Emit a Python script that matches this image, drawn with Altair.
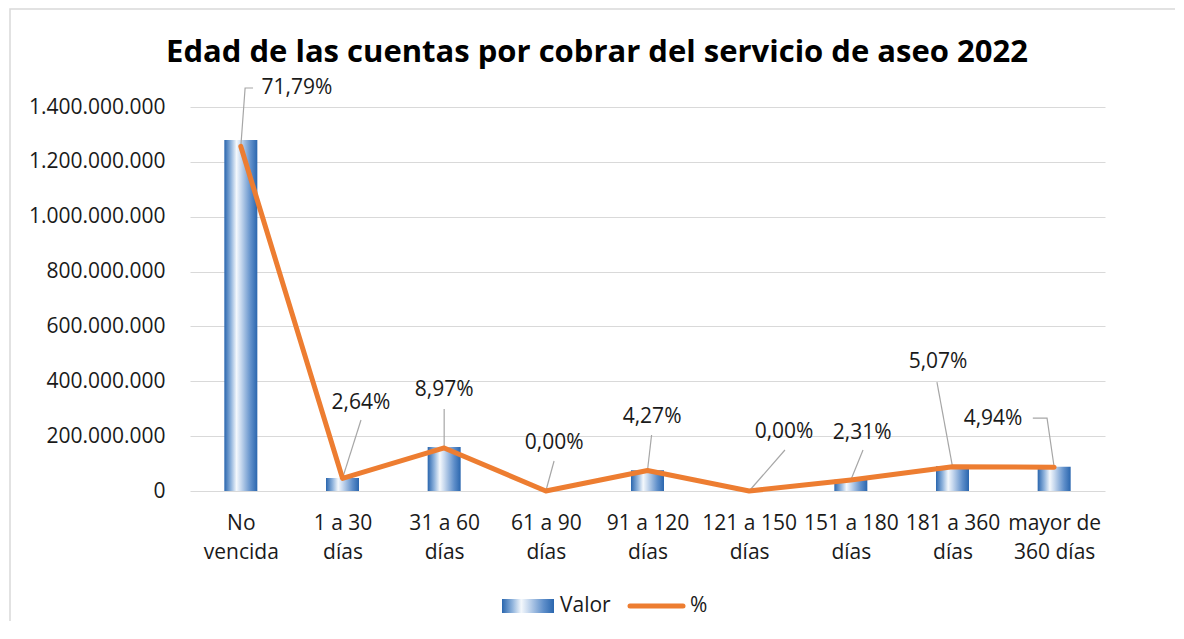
import json
import altair as alt
import pandas as pd

# ---------------- data ----------------
categories = ["No\nvencida", "1 a 30\ndías", "31 a 60\ndías", "61 a 90\ndías",
              "91 a 120\ndías", "121 a 150\ndías", "151 a 180\ndías",
              "181 a 360\ndías", "mayor de\n360 días"]
valor = [1280000000, 47000000, 160000000, 0, 76000000, 0, 41000000, 90000000, 88000000]
pct = [71.79, 2.64, 8.97, 0.00, 4.27, 0.00, 2.31, 5.07, 4.94]

left_ticks = [0, 200000000, 400000000, 600000000, 800000000,
              1000000000, 1200000000, 1400000000]
right_ticks = [0, 10, 20, 30, 40, 50, 60, 70, 80]

# data-label anchors (category index units, percent units)
label_x = [0.552, 1.182, 2.001, 3.082, 4.045, 5.343, 6.111, 6.858, 7.399]
label_y = [83.96, 18.33, 21.04, 10.0, 15.42, 12.29, 12.08, 26.88, 15.0]
# leader-line bends/ends after the data point
leader_x = [[0.042, 0.12], [1.182], [2.0], [3.081], [4.04], [5.352], [6.12], [6.847], [7.93, 7.79]]
leader_y = [[83.96, 83.96], [14.79], [17.08], [6.25], [11.67], [8.54], [8.54], [22.7], [15.2, 15.2]]

title_text = "Edad de las cuentas por cobrar del servicio de aseo 2022"

# ---------------- tables ----------------
idx = list(range(len(categories)))
df = pd.DataFrame({"idx": idx, "valor": valor, "pct": pct})
lab = pd.DataFrame({"lx": label_x, "ly": label_y, "pct": pct})
rows = []
for i in idx:
    rows.append({"lid": i, "o": 0, "lx": i, "ly": pct[i]})
    for k, (xx, yy) in enumerate(zip(leader_x[i], leader_y[i])):
        rows.append({"lid": i, "o": k + 1, "lx": xx, "ly": yy})
lead = pd.DataFrame(rows)
one = pd.DataFrame({"a": [0]})

FONT = "Open Sans"
TXT = "#1a1a1a"
FS = 21

grad = alt.Gradient(
    gradient="linear", x1=0, x2=1, y1=0, y2=0,
    stops=[
        alt.GradientStop(color="#2a66ae", offset=0),
        alt.GradientStop(color="#8fb3dc", offset=0.2),
        alt.GradientStop(color="#f4f8fc", offset=0.37),
        alt.GradientStop(color="#c9daef", offset=0.5),
        alt.GradientStop(color="#5f8fca", offset=0.8),
        alt.GradientStop(color="#2a66ae", offset=1),
    ],
)

x_labels = json.dumps([c.split("\n") for c in categories], ensure_ascii=False)
x_axis = alt.Axis(values=idx, labelExpr=x_labels + "[datum.value]", title=None,
                  grid=False, domain=False, ticks=False, labelPadding=21,
                  labelFont=FONT, labelFontSize=FS, labelColor=TXT,
                  labelLineHeight=29, labelAngle=0)
x_scale = alt.Scale(domain=[-0.5, len(categories) - 0.5], nice=False, zero=False, padding=0)

left_axis = alt.Axis(values=left_ticks, title=None, grid=True, gridColor="#d9d9d9",
                     gridWidth=1.2, domain=False, ticks=False, labelPadding=25,
                     labelFont=FONT, labelFontSize=FS, labelColor=TXT,
                     labelExpr="replace(format(datum.value, ','), regexp(',', 'g'), '.')")
right_axis = alt.Axis(values=right_ticks, orient="right", title=None, grid=False,
                      domain=False, ticks=False, labelPadding=25,
                      labelFont=FONT, labelFontSize=FS, labelColor=TXT,
                      labelExpr="datum.value + '%'")
pct_scale = alt.Scale(domain=[0, 80], nice=False, zero=True)

bars = alt.Chart(df).mark_bar(size=33, color=grad).encode(
    x=alt.X("idx:Q", scale=x_scale, axis=x_axis),
    y=alt.Y("valor:Q", scale=alt.Scale(domain=[0, 1400000000], nice=False), axis=left_axis),
)

leaders = alt.Chart(lead).mark_line(color="#a6a6a6", strokeWidth=1.2).encode(
    x=alt.X("lx:Q", scale=x_scale, axis=x_axis),
    y=alt.Y("ly:Q", scale=pct_scale, axis=None),
    detail="lid:N",
    order="o:Q",
)

line = alt.Chart(df).mark_line(color="#ED7D31", strokeWidth=5, strokeCap="round",
                               strokeJoin="round").encode(
    x=alt.X("idx:Q", scale=x_scale, axis=x_axis),
    y=alt.Y("pct:Q", scale=pct_scale, axis=right_axis),
)

labels = alt.Chart(lab).transform_calculate(
    txt="replace(format(datum.pct, '.2f'), '.', ',') + '%'"
).mark_text(font=FONT, fontSize=FS, color=TXT, align="center", baseline="middle").encode(
    x=alt.X("lx:Q", scale=x_scale, axis=x_axis),
    y=alt.Y("ly:Q", scale=pct_scale, axis=None),
    text="txt:N",
)

# chrome: outer border, title, legend
border = alt.Chart(one).mark_rect(fill="white", fillOpacity=0, stroke="#d9d9d9",
                                  strokeWidth=1.5).encode(
    x=alt.value(-180), x2=alt.value(3000), y=alt.value(-98), y2=alt.value(3000))
title = alt.Chart(one).mark_text(text=title_text, font=FONT, fontSize=31,
                                 fontWeight="bold", color="#000000",
                                 align="center", baseline="middle").encode(
    x=alt.value(407), y=alt.value(-54))
leg_sw = alt.Chart(one).mark_rect(color=grad).encode(
    x=alt.value(312), x2=alt.value(364), y=alt.value(492), y2=alt.value(506))
leg_t1 = alt.Chart(one).mark_text(text="Valor", font=FONT, fontSize=FS, color=TXT,
                                  align="left", baseline="middle").encode(
    x=alt.value(370), y=alt.value(499))
leg_ln = alt.Chart(one).mark_rule(color="#ED7D31", strokeWidth=5, strokeCap="round").encode(
    x=alt.value(440), x2=alt.value(493), y=alt.value(499))
leg_t2 = alt.Chart(one).mark_text(text="%", font=FONT, fontSize=FS, color=TXT,
                                  align="left", baseline="middle").encode(
    x=alt.value(500), y=alt.value(499))

pct_layer = alt.layer(leaders, line, labels)
chart = alt.layer(border, bars, pct_layer, title, leg_sw, leg_t1, leg_ln, leg_t2).resolve_scale(
    y="independent"
).properties(
    width=915, height=384,
    autosize=alt.AutoSizeParams(type="none"),
    padding={"left": 182, "top": 99, "right": 70, "bottom": 130},
    background="white",
).configure_view(stroke=None)

chart.save("out.html", embed_options={"renderer": "svg", "actions": False})
